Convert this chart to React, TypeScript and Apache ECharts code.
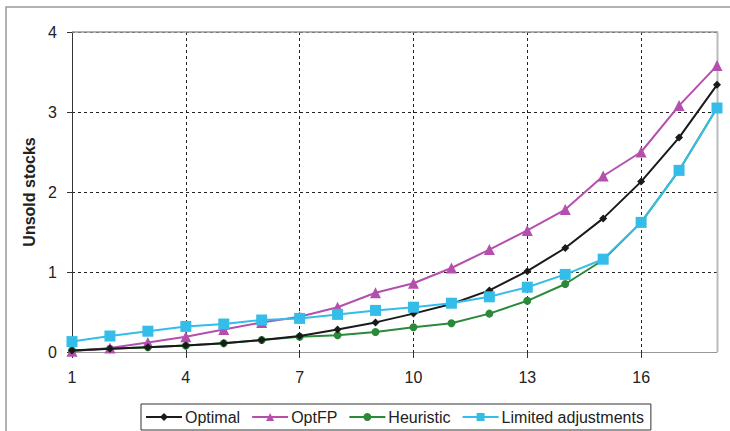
import React, { useEffect, useRef } from "react";
import * as echarts from "echarts";

const categories = ["1","2","3","4","5","6","7","8","9","10","11","12","13","14","15","16","17","18"];
const optimal = [0.02,0.04,0.06,0.08,0.11,0.15,0.2,0.28,0.37,0.48,0.6,0.77,1.01,1.3,1.67,2.13,2.68,3.34];
const optFP = [0.01,0.05,0.12,0.19,0.28,0.37,0.44,0.56,0.74,0.86,1.05,1.28,1.52,1.78,2.2,2.5,3.08,3.58];
const heuristic = [0.02,0.04,0.06,0.08,0.11,0.15,0.19,0.21,0.25,0.31,0.36,0.48,0.64,0.85,1.15,1.62,2.27,3.05];
const limited = [0.13,0.2,0.26,0.32,0.35,0.4,0.42,0.47,0.52,0.56,0.61,0.69,0.81,0.97,1.16,1.62,2.27,3.05];
const yTicks = [0, 1, 2, 3, 4];

export default function App() {
  const ref = useRef<HTMLDivElement>(null);
  useEffect(() => {
    if (!ref.current) return;
    const chart = echarts.init(ref.current, null, { renderer: "svg" });
    const font = "'Liberation Sans', Arial, sans-serif";
    const mk = (name: string, data: number[], color: string, symbol: string, size: number, z: number) => ({
      name,
      type: "line",
      data,
      symbol,
      symbolSize: size,
      z,
      lineStyle: { color, width: 2 },
      itemStyle: { color },
    });
    chart.setOption({
      animation: false,
      backgroundColor: "#fff",
      textStyle: { fontFamily: font },
      grid: { left: 72, right: 13, top: 32, bottom: 79 },
      xAxis: {
        type: "category",
        data: categories,
        boundaryGap: false,
        axisLine: { lineStyle: { color: "#999", width: 1 } },
        axisTick: { interval: 2, length: 6, lineStyle: { color: "#333" } },
        axisLabel: { interval: 2, fontSize: 16, color: "#222", margin: 17, fontFamily: font },
        splitLine: { show: true, interval: 2, lineStyle: { color: "#222", type: [3, 3], width: 1 } },
      },
      yAxis: {
        type: "value",
        min: yTicks[0],
        max: yTicks[yTicks.length - 1],
        interval: 1,
        name: "Unsold stocks",
        nameLocation: "middle",
        nameGap: 34,
        nameTextStyle: { fontSize: 16, fontWeight: "bold", color: "#222", fontFamily: font },
        axisLine: { show: true, lineStyle: { color: "#333", width: 1 } },
        axisTick: { show: true, length: 5, lineStyle: { color: "#333" } },
        axisLabel: { fontSize: 16, color: "#222", margin: 15, fontFamily: font },
        splitLine: { show: true, lineStyle: { color: "#222", type: [3, 3], width: 1 } },
      },
      legend: {
        left: 141,
        top: 404,
        itemWidth: 36,
        itemHeight: 10,
        itemGap: 11,
        padding: [5, 7, 5, 4],
        borderColor: "#333",
        borderWidth: 1,
        textStyle: { fontSize: 16, color: "#222", fontFamily: font, padding: [0, 0, 0, -2] },
        data: ["Optimal", "OptFP", "Heuristic", "Limited adjustments"],
      },
      graphic: [
        { type: "rect", shape: { x: 6, y: 7, width: 760, height: 460 }, style: { fill: "none", stroke: "#999", lineWidth: 1.5 }, z: -1, silent: true },
        { type: "line", shape: { x1: 72, y1: 32, x2: 718, y2: 32 }, style: { stroke: "#999", lineWidth: 1.5 }, z: 1, silent: true },
        { type: "line", shape: { x1: 717.5, y1: 32, x2: 717.5, y2: 352 }, style: { stroke: "#bbb", lineWidth: 2 }, z: 1, silent: true },
      ],
      series: [
        mk("Optimal", optimal, "#1a1a1a", "diamond", 8, 4),
        mk("OptFP", optFP, "#b54fae", "triangle", 11, 3),
        mk("Heuristic", heuristic, "#2b8a3a", "circle", 8, 2),
        mk("Limited adjustments", limited, "#35bde9", "rect", 11, 5),
      ],
    });
    return () => chart.dispose();
  }, []);
  return <div ref={ref} style={{ position: "fixed", left: 0, top: 0, width: 730, height: 431 }} />;
}
